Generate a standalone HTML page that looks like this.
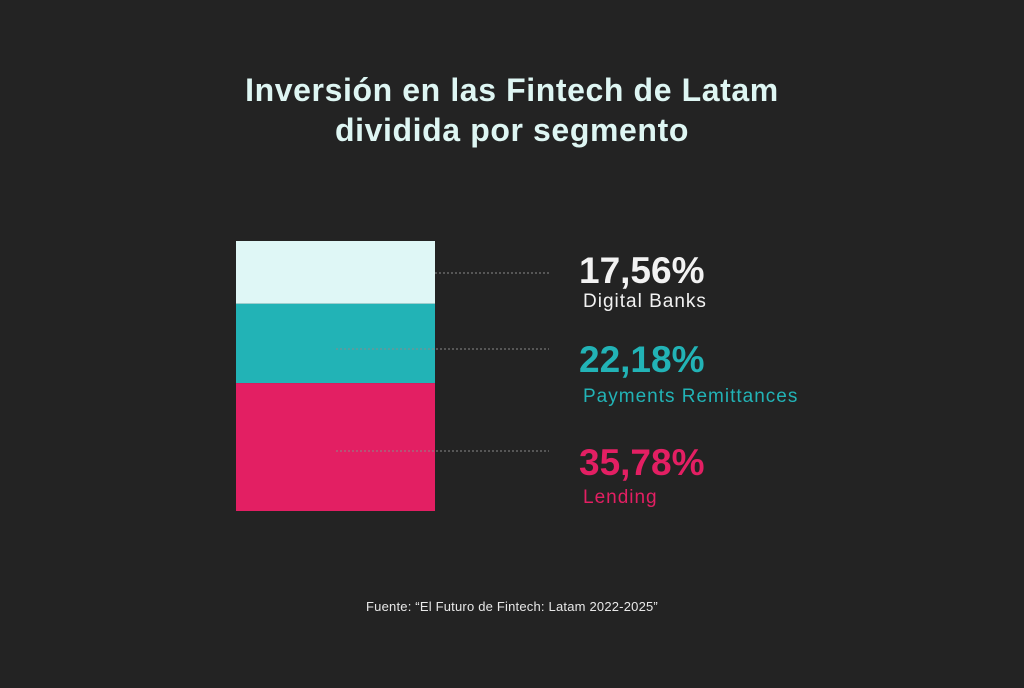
<!DOCTYPE html>
<html><head><meta charset="utf-8"><style>
body{margin:0;background:#232323;width:1024px;height:683px;overflow:hidden;font-family:"Liberation Sans",sans-serif}
</style></head><body>
<svg width="1024" height="683">
<rect width="1024" height="683" fill="#232323"/>
<text x="512" y="101" text-anchor="middle" font-size="32" font-weight="bold" fill="#def6f3" letter-spacing="0.6">Inversión en las Fintech de Latam</text>
<text x="512" y="141" text-anchor="middle" font-size="32" font-weight="bold" fill="#def6f3" letter-spacing="0.6">dividida por segmento</text>
<g id="bars"></g>
<text x="512" y="611" text-anchor="middle" font-size="13" fill="#e8e8e8" letter-spacing="0.2">Fuente:  “El Futuro de Fintech: Latam 2022-2025”</text>
</svg>
<script>
const categories=["Digital Banks","Payments Remittances","Lending"];
const values=[17.56,22.18,35.78];
const labels=["17,56%","22,18%","35,78%"];
const colors=["#dff7f6","#22b3b6","#e31f63"];
const textColors=["#f2f2f2","#22b3b6","#e31f63"];
const g=document.getElementById('bars');
const NS="http://www.w3.org/2000/svg";
const top0=241,bottom0=511,x0=236,w=199;
const total=values.reduce((a,b)=>a+b,0);
const scale=v=>v*(bottom0-top0)/total;
const lineY=[273,349,451],lineX=[435,336,336],textY=[283,372,475],labelY=[307,402,503];
let y=top0;
values.forEach((v,i)=>{
  const h=scale(v);
  const r=document.createElementNS(NS,'rect');
  r.setAttribute('x',x0);r.setAttribute('y',y);r.setAttribute('width',w);r.setAttribute('height',h);r.setAttribute('fill',colors[i]);
  
  
  g.appendChild(r);
  y+=h;
  const l=document.createElementNS(NS,'line');
  l.setAttribute('x1',lineX[i]);l.setAttribute('x2',549);l.setAttribute('y1',lineY[i]);l.setAttribute('y2',lineY[i]);
  l.setAttribute('stroke','#8a8a8a');l.setAttribute('stroke-dasharray','2 2');l.setAttribute('stroke-width','1');
  
  
  g.appendChild(l);
  const t=document.createElementNS(NS,'text');
  t.setAttribute('x',579);t.setAttribute('y',textY[i]);t.setAttribute('font-size','37');t.setAttribute('font-weight','bold');t.setAttribute('fill',textColors[i]);
  t.textContent=labels[i];
  
  
  g.appendChild(t);
  const c=document.createElementNS(NS,'text');
  c.setAttribute('x',583);c.setAttribute('y',labelY[i]);c.setAttribute('font-size','19');c.setAttribute('letter-spacing','1');c.setAttribute('fill',textColors[i]);
  c.textContent=categories[i];
  
  
  g.appendChild(c);
});
</script>
</body></html>
